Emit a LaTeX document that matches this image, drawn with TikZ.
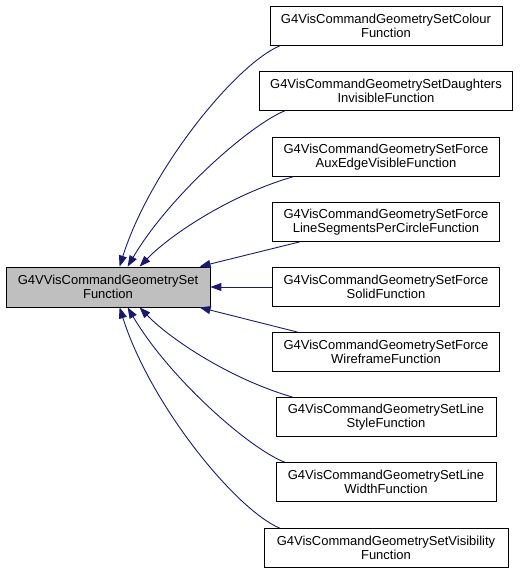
\documentclass[tikz,border=0pt]{standalone}
\usepackage{fontspec}
\setmainfont{Liberation Sans}
\usetikzlibrary{arrows.meta,calc}
\definecolor{edgec}{HTML}{191970}
\definecolor{basefill}{HTML}{BFBFBF}
\begin{document}
\begin{tikzpicture}[x=1pt,y=-1pt,
  box/.style={draw=black,line width=0.8pt,fill=white,align=center,inner sep=0pt,
    minimum height=39pt,font=\fontsize{13}{14}\selectfont},
  edge/.style={draw=edgec,line width=0.9pt,-{Triangle[length=11pt,width=8pt]},fill=none}]
\useasboundingbox (0,0) rectangle (520,573);
\node[box,fill=basefill,minimum width=204pt,minimum height=40pt] (base) at (108,287) {G4VVisCommandGeometrySet\\Function};
\node[box,minimum width=232pt] (c1) at (386,26) {G4VisCommandGeometrySetColour\\Function};
\node[box,minimum width=253pt] (c2) at (386,91) {G4VisCommandGeometrySetDaughters\\InvisibleFunction};
\node[box,minimum width=227pt] (c3) at (386,157) {G4VisCommandGeometrySetForce\\AuxEdgeVisibleFunction};
\node[box,minimum width=227pt] (c4) at (386,222) {G4VisCommandGeometrySetForce\\LineSegmentsPerCircleFunction};
\node[box,minimum width=227pt] (c5) at (386,287) {G4VisCommandGeometrySetForce\\SolidFunction};
\node[box,minimum width=227pt] (c6) at (386,352) {G4VisCommandGeometrySetForce\\WireframeFunction};
\node[box,minimum width=220pt] (c7) at (386,417) {G4VisCommandGeometrySetLine\\StyleFunction};
\node[box,minimum width=220pt] (c8) at (386,482) {G4VisCommandGeometrySetLine\\WidthFunction};
\node[box,minimum width=244pt] (c9) at (386,548) {G4VisCommandGeometrySetVisibility\\Function};
% upper edges
\draw[edge] ($(c1.south west)+(10,0)$) .. controls (235,65) and (150,170) .. ($(base.north west)+(114,0)$);
\draw[edge] ($(c2.south west)+(25.5,0)$) .. controls (250,125) and (170,195) .. ($(base.north west)+(122,0)$);
\draw[edge] ($(c3.south west)+(20.5,0)$) .. controls (230,195) and (170,235) .. ($(base.north west)+(134,0)$);
\draw[edge] ($(c4.south west)+(27.5,0)$) -- ($(base.north west)+(194,0)$);
\draw[edge] (c5.west) -- (base.east);
% lower edges
\draw[edge] ($(c6.north west)+(25.5,0)$) -- ($(base.south west)+(194,0)$);
\draw[edge] ($(c7.north west)+(17,0)$) .. controls (230,379) and (170,339) .. ($(base.south west)+(134,0)$);
\draw[edge] ($(c8.north west)+(9,0)$) .. controls (250,449) and (170,379) .. ($(base.south west)+(122,0)$);
\draw[edge] ($(c9.north west)+(16,0)$) .. controls (235,509) and (150,404) .. ($(base.south west)+(114,0)$);
\end{tikzpicture}
\end{document}
